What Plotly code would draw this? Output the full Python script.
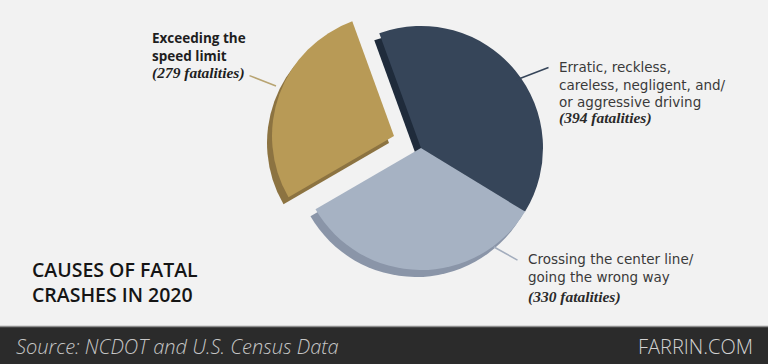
import plotly.graph_objects as go

# ---- data ----
causes = [
    "Erratic, reckless, careless, negligent, and/ or aggressive driving",
    "Crossing the center line/ going the wrong way",
    "Exceeding the speed limit",
]
fatalities = [394, 330, 279]
face_colors = ["#364559", "#a6b2c3", "#b89a56"]
side_colors = ["#1f2b3b", "#8a95a8", "#8c7341"]
label_lines = [
    ["Erratic, reckless,", "careless, negligent, and/", "or aggressive driving"],
    ["Crossing the center line/", "going the wrong way"],
    ["Exceeding the", "speed limit"],
]

title_lines = ["CAUSES OF FATAL", "CRASHES IN 2020"]
source_text = "Source: NCDOT and U.S. Census Data"
brand_text = "FARRIN.COM"

W, H = 768, 364
R = 122               # pie radius in px
CX, CY = 421, 148     # pie centre in px (from top)
SHADOW_DX, SHADOW_DY = -5, 7
EXPLODE = [(0, 0), (0, 0), (-27, -12)]   # exploded offset per slice (px)
ROT = -20
CLEAR = "rgba(0,0,0,0)"

def dom(cx, cy):
    return dict(x=[(cx - R) / W, (cx + R) / W],
                y=[(H - cy - R) / H, (H - cy + R) / H])

fig = go.Figure()
common = dict(labels=causes, values=fatalities, sort=False, direction="clockwise",
              rotation=ROT, textinfo="none", hoverinfo="label+value",
              showlegend=False)

offsets = sorted(set(EXPLODE), key=EXPLODE.index)
for layer_colors, (sdx, sdy) in [(side_colors, (SHADOW_DX, SHADOW_DY)),
                                 (face_colors, (0, 0))]:
    for off in offsets:
        cols = [c if EXPLODE[i] == off else CLEAR for i, c in enumerate(layer_colors)]
        fig.add_trace(go.Pie(**common,
                             domain=dom(CX + off[0] + sdx, CY + off[1] + sdy),
                             marker=dict(colors=cols, line=dict(width=0))))

SANS = "Open Sans"
LABEL = "DejaVu Sans"
SERIF = "Liberation Serif"

def px(x, y):
    return x / W, 1 - y / H

anns = []
def text(t, x, y, size, color, family=SANS, weight="normal", style="normal",
         xanchor="left"):
    ax, ay = px(x, y)
    anns.append(dict(x=ax, y=ay, xref="paper", yref="paper", text=t,
                     showarrow=False, xanchor=xanchor, yanchor="middle",
                     align="left",
                     font=dict(family=family, size=size, color=color,
                               weight=weight, style=style)))

def leader(x0, y0, x1, y1, color):
    a1 = px(x1, y1)
    anns.append(dict(x=a1[0], y=a1[1], xref="paper", yref="paper",
                     ax=x0 - x1, ay=y0 - y1,
                     text="", showarrow=True, arrowhead=0, arrowwidth=1.5,
                     arrowcolor=color, standoff=0, startstandoff=0))

def fat(v):
    return f"({v} fatalities)"

# gold label
text("<br>".join(label_lines[2]), 150, 46.5, 13.5, "#1e1e1e", weight="bold")
text(fat(fatalities[2]), 150, 73, 15.5, "#1e1e1e", family=SERIF,
     weight="bold", style="italic")
leader(248, 75, 276, 86, "#b8a472")

# navy label
text("<br>".join(label_lines[0]), 557, 84, 13.5, "#3a3a3a", family=LABEL)
text(fat(fatalities[0]), 557, 118.5, 15.5, "#2a2a2a", family=SERIF,
     weight="bold", style="italic")
leader(550, 67, 516, 80, "#364559")

# light blue label
text("<br>".join(label_lines[1]), 526, 268, 13.5, "#3a3a3a", family=LABEL)
text(fat(fatalities[1]), 526, 296.5, 15.5, "#2a2a2a", family=SERIF,
     weight="bold", style="italic")
leader(519, 261, 494, 247, "#a3adbd")

# title
text("<br>".join(title_lines), 30, 281.5, 19.5, "#151515", weight=600)

# footer
text(source_text, 14, 346, 20, "#c6c6c6", style="italic", weight=300)
text(brand_text, 755, 346, 20, "#d2d2d2", weight=300, xanchor="right")

shapes = [
    dict(type="rect", xref="paper", yref="paper", x0=0, x1=1,
         y0=0, y1=1 - 326 / H, fillcolor="#2b2b2b", line=dict(width=0),
         layer="below"),
    dict(type="line", xref="paper", yref="paper", x0=0, x1=1,
         y0=1 - 326.5 / H, y1=1 - 326.5 / H, line=dict(color="#8f8f8f", width=1.5)),
]

fig.update_layout(width=W, height=H, margin=dict(l=0, r=0, t=0, b=0),
                  paper_bgcolor="#f2f2f2", plot_bgcolor="#f2f2f2",
                  annotations=anns, shapes=shapes)
fig.write_html("out.html", config={"displayModeBar": False},
               post_script="document.body.style.margin='0px';"
                           "document.body.style.overflow='hidden';")
